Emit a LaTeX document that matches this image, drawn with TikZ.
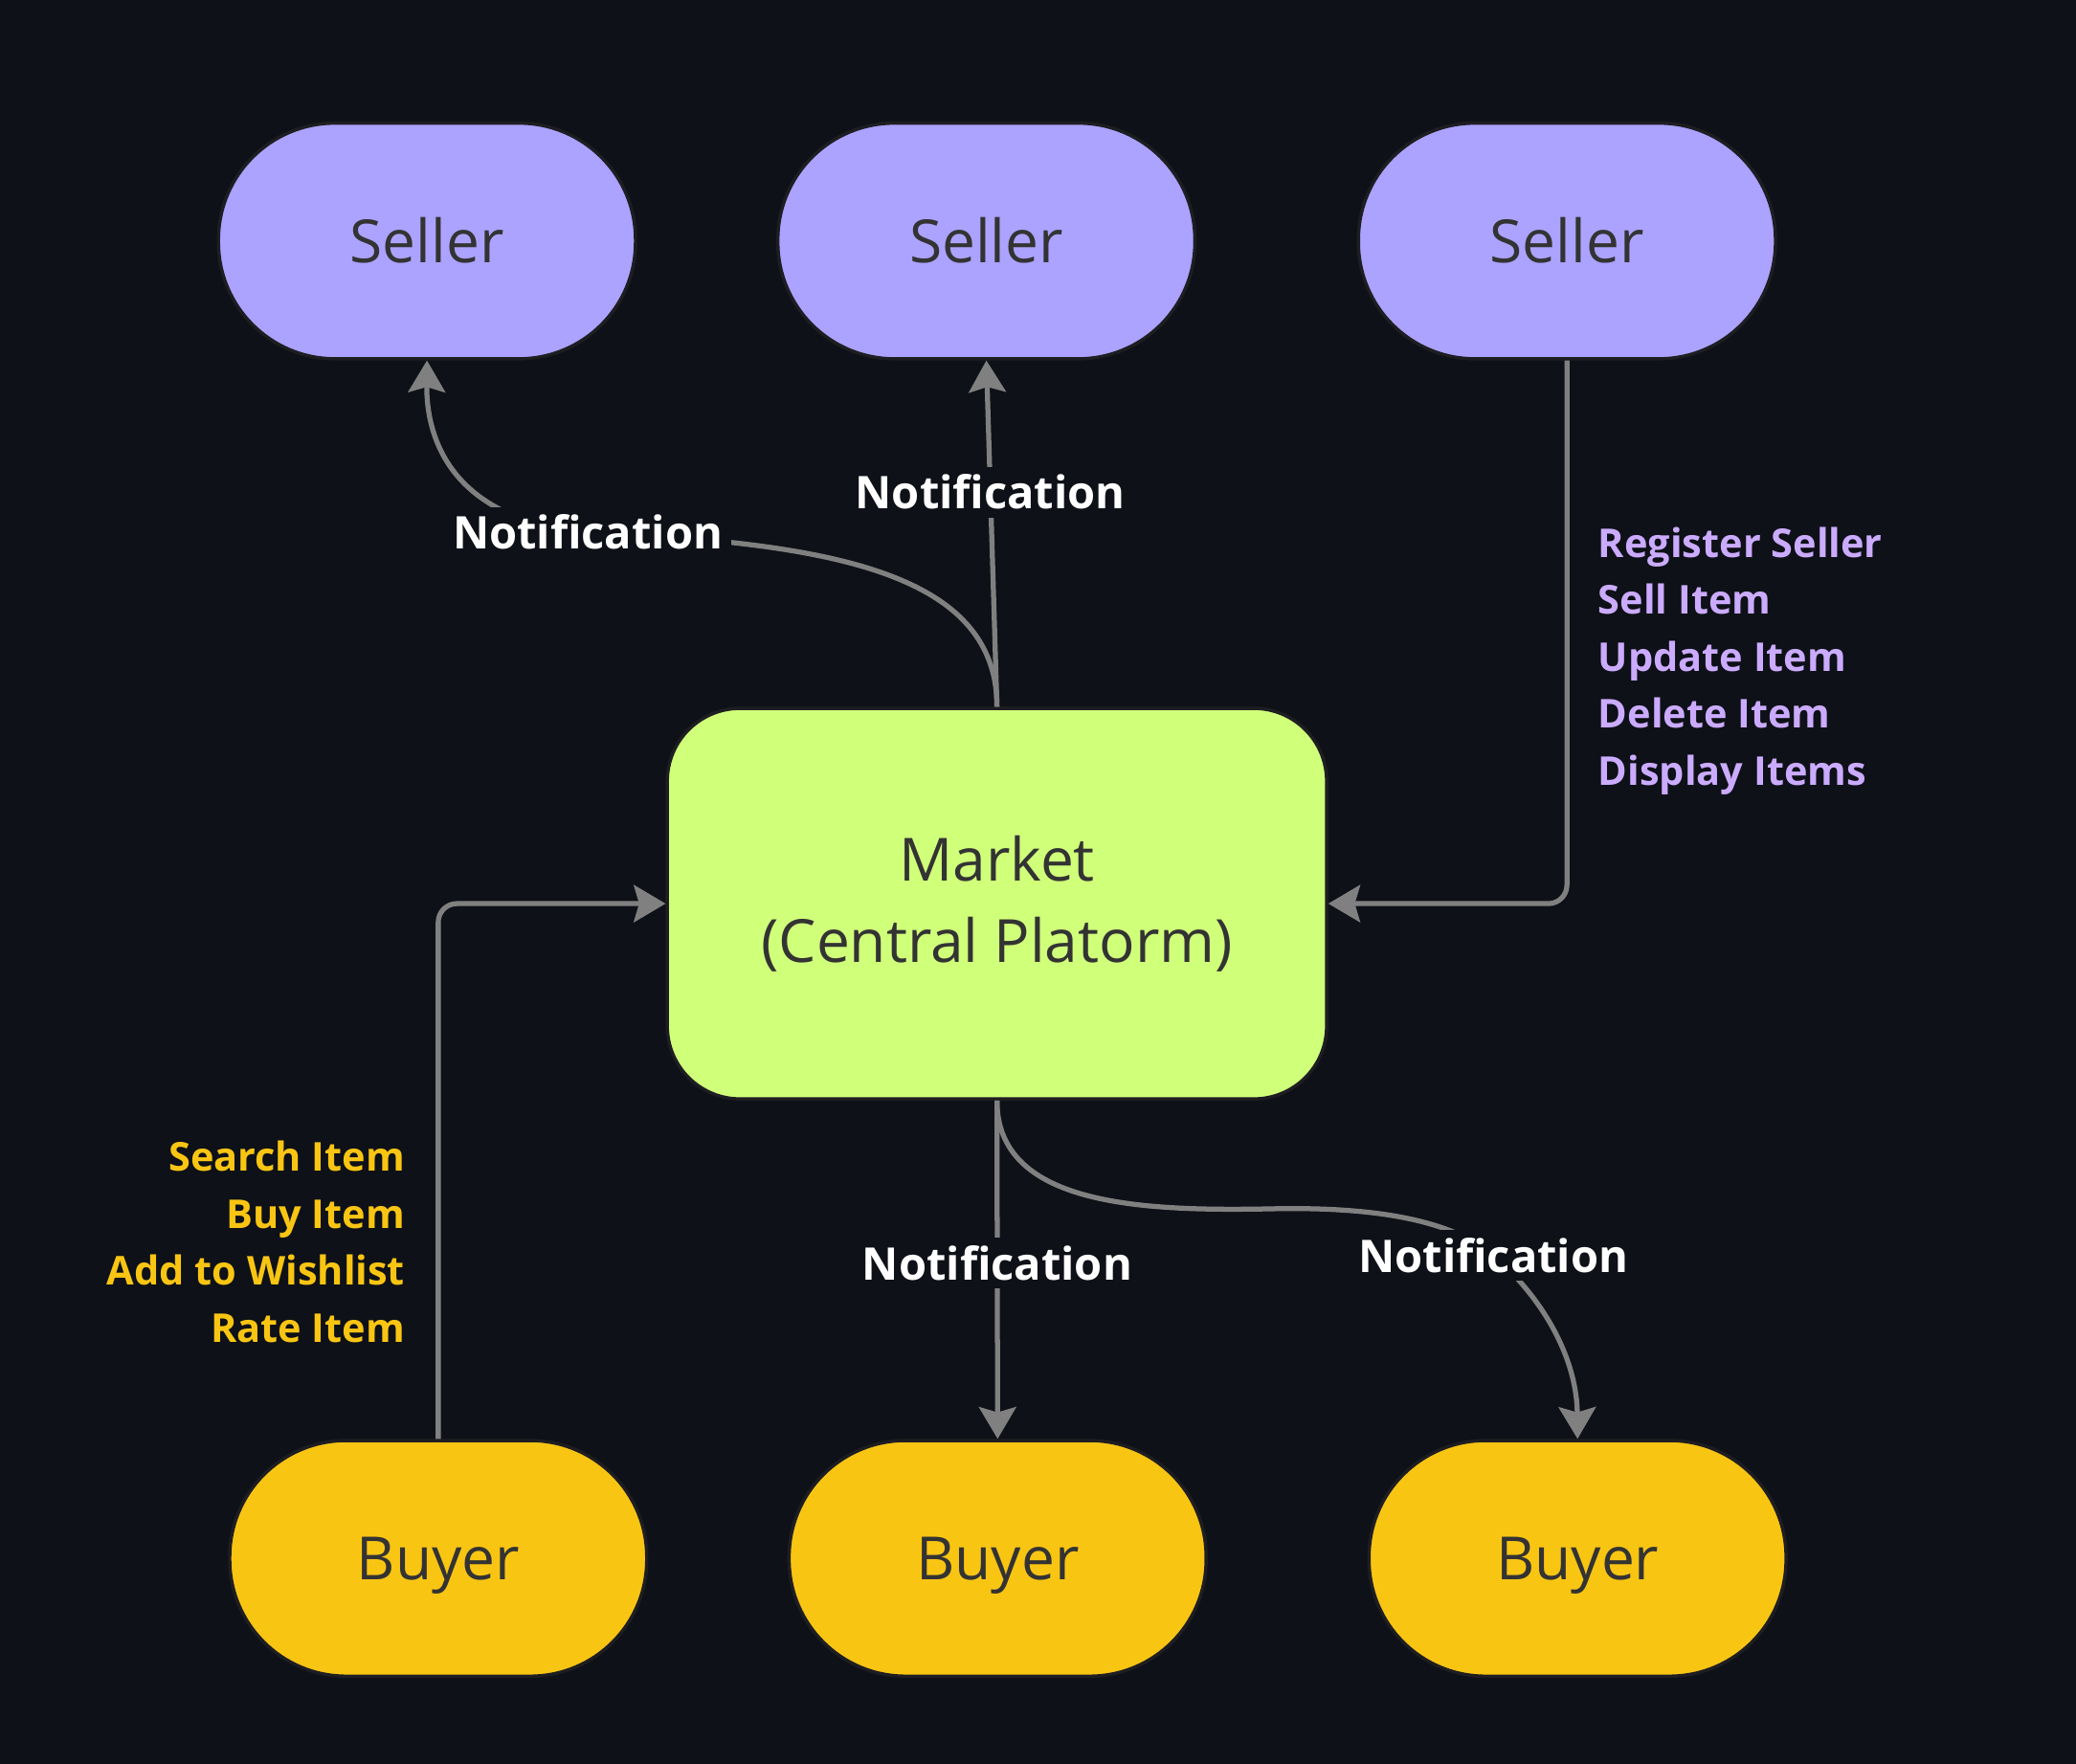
\documentclass[tikz,border=0pt]{standalone}
\usepackage{fontspec}
\setmainfont{Open Sans}
\usetikzlibrary{arrows.meta}
\definecolor{bg}{HTML}{0E1117}
\definecolor{sellerfill}{HTML}{ABA3FF}
\definecolor{marketfill}{HTML}{D0FF7A}
\definecolor{buyerfill}{HTML}{F9C513}
\definecolor{nodetext}{HTML}{333333}
\definecolor{nodeborder}{HTML}{1E1E22}
\definecolor{edgegray}{HTML}{808080}
\definecolor{lavtext}{HTML}{CBABFF}
\definecolor{yeltext}{HTML}{F9C513}
\begin{document}
\begin{tikzpicture}[x=1pt,y=-1pt,
  actor/.style={draw=nodeborder, line width=2.5pt, rounded corners=88pt,
    minimum width=315pt, minimum height=178pt, text=nodetext,
    text height=33pt, text depth=0pt,
    font=\fontsize{45}{54}\selectfont},
  seller/.style={actor, fill=sellerfill},
  buyer/.style={actor, fill=buyerfill},
  market/.style={draw=nodeborder, line width=2.5pt, rounded corners=55pt,
    fill=marketfill, minimum width=498pt, minimum height=295pt, text=nodetext,
    align=center, font=\fontsize{45}{61}\selectfont},
  conn/.style={draw=edgegray, line width=3.8pt,
    -{Stealth[length=24pt,width=28pt,inset=4pt]}},
  lbl/.style={fill=bg, text=white, inner sep=6pt,
    font=\bfseries\fontsize{34}{42}\selectfont},
  oplist/.style={inner sep=0pt, font=\bfseries\fontsize{30}{43}\selectfont}
]
\fill[bg] (0,0) rectangle (1568,1332);
\useasboundingbox (0,0) rectangle (1568,1332);

\node[seller] (s1) at (322.5,182) {Seller};
\node[seller] (s2) at (745,182) {Seller};
\node[seller] (s3) at (1183.5,182) {Seller};
\node[market] (m) at (753,682.5) {\raisebox{-2pt}{Market}\\\raisebox{-2pt}{(Central Platorm)}};
\node[buyer] (b1) at (331,1177) {Buyer};
\node[buyer] (b2) at (753.5,1177) {Buyer};
\node[buyer] (b3) at (1191.5,1177) {Buyer};

\coordinate (n1) at (444,402);
\coordinate (n6) at (1128,948);

% Market -> Seller 1
\draw[conn] (m.north) .. controls (753,430) and (620,410) .. (n1)
  .. controls (340,393) and (322,330) .. (s1.south);
\node[lbl] at (n1) {Notification};

% Market -> Seller 2
\draw[conn] (m.north) -- node[lbl, pos=0.62] {Notification} (s2.south);

% Seller 3 -> Market
\draw[conn, rounded corners=14pt] (s3.south) |- (m.east);
\node[oplist, text=lavtext, anchor=west, align=left] (t3) at (1207,499)
  {Register Seller\\Sell Item\\Update Item\\Delete Item\\Display Items};

% Buyer 1 -> Market
\draw[conn, rounded corners=14pt] (b1.north) |- (m.west);
\node[oplist, text=yeltext, anchor=east, align=right] (t4) at (306,938)
  {Search Item\\Buy Item\\Add to Wishlist\\Rate Item};

% Market -> Buyer 2
\draw[conn] (m.south) -- node[lbl, pos=0.48] {Notification} (b2.north);

% Market -> Buyer 3
\draw[conn] (m.south) .. controls (753,910) and (860,915) .. (960,913)
  .. controls (1050,911) and (1100,925) .. (n6)
  .. controls (1170,985) and (1191,1030) .. (b3.north);
\node[lbl] at (n6) {Notification};
\end{tikzpicture}
\end{document}
